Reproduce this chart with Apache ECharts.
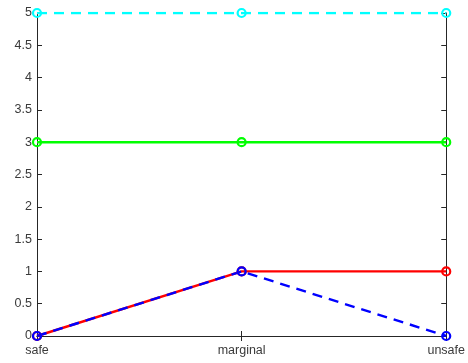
<!DOCTYPE html>
<html>
<head>
<meta charset="utf-8">
<script src="https://cdn.jsdelivr.net/npm/echarts@6/dist/echarts.min.js"></script>
<style>
html, body { margin: 0; padding: 0; background: #fff; }
#chart { width: 468px; height: 363px; }
</style>
</head>
<body>
<div id="chart"></div>
<script>
// Categories along the x axis
const categories = ['safe', 'marginal', 'unsafe'];
// Series values
const greenValues = [3, 3, 3];
const redValues = [0, 1, 1];
const blueValues = [0, 1, 0];
const cyanValues = [5, 5, 5];
// Y axis range
const yMin = 0, yMax = 5, yStep = 0.5;

const axisColor = '#262626';
const labelColor = '#3a3a3a';
const font = 'Liberation Sans, Arial, sans-serif';
const fontSize = 12.5;

function makeSeries(name, data, color, dashed) {
  return {
    name: name,
    type: 'line',
    data: data,
    symbol: 'circle',
    symbolSize: 8,
    showSymbol: true,
    animation: false,
    itemStyle: { color: 'transparent', borderColor: color, borderWidth: 2.2 },
    lineStyle: { color: color, width: 2.4, type: dashed ? [10, 7] : 'solid' },
    emphasis: { disabled: true }
  };
}

const chart = echarts.init(document.getElementById('chart'), null, { renderer: 'canvas' });
chart.setOption({
  backgroundColor: '#fff',
  animation: false,
  grid: { left: 37, right: 19, top: 13, bottom: 27, containLabel: false },
  xAxis: [
    {
      type: 'category', data: categories, boundaryGap: false,
      axisLine: { lineStyle: { color: axisColor, width: 1 } },
      axisTick: { inside: true, length: 5, lineStyle: { color: axisColor } },
      axisLabel: { color: labelColor, fontFamily: font, fontSize: fontSize, margin: 8 },
      splitLine: { show: false }
    },
    {
      type: 'category', data: categories, boundaryGap: false, position: 'top',
      axisLine: { lineStyle: { color: axisColor, width: 1 } },
      axisTick: { inside: true, length: 5, lineStyle: { color: axisColor } },
      axisLabel: { show: false },
      splitLine: { show: false }
    }
  ],
  yAxis: [
    {
      type: 'value', min: yMin, max: yMax, interval: yStep,
      axisLine: { show: true, lineStyle: { color: axisColor, width: 1 } },
      axisTick: { show: true, inside: true, length: 5, lineStyle: { color: axisColor } },
      axisLabel: { color: labelColor, fontFamily: font, fontSize: fontSize, margin: 5 },
      splitLine: { show: false }
    },
    {
      type: 'value', min: yMin, max: yMax, interval: yStep, position: 'right',
      axisLine: { show: true, lineStyle: { color: axisColor, width: 1 } },
      axisTick: { show: true, inside: true, length: 5, lineStyle: { color: axisColor } },
      axisLabel: { show: false },
      splitLine: { show: false }
    }
  ],
  series: [
    makeSeries('green', greenValues, '#00ff00', false),
    makeSeries('red', redValues, '#ff0000', false),
    makeSeries('blue', blueValues, '#0000ff', true),
    makeSeries('cyan', cyanValues, '#00ffff', true)
  ]
});
</script>
</body>
</html>
